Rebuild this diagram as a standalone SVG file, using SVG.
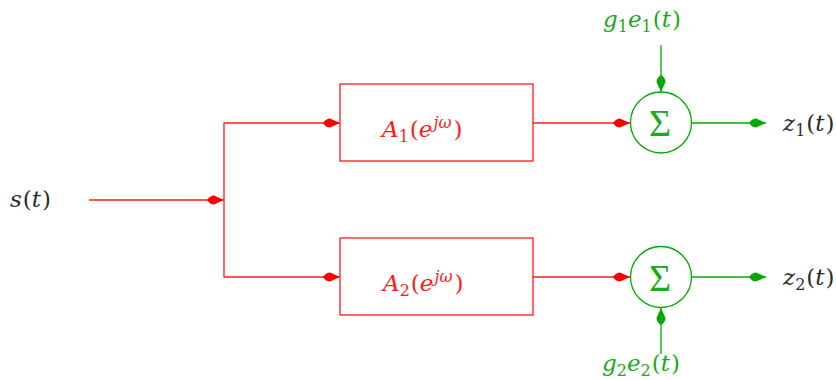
<svg xmlns="http://www.w3.org/2000/svg" width="836" height="380" viewBox="0 0 836 380">
  <defs>
    <style>
      .red { stroke: #ff1a1a; stroke-width: 1.3; fill: none; }
      .grn { stroke: #00aa00; stroke-width: 1.3; fill: none; }
      .box { stroke: #ff1a1a; stroke-width: 1.3; fill: #ffffff; }
      .sum { stroke: #00aa00; stroke-width: 1.3; fill: #ffffff; }
      .tx { font-family: "DejaVu Serif", "Liberation Serif", serif; font-size: 23px; }
      .mi { font-style: italic; }
      .sb { font-size: 16px; font-style: normal; }
      .sp { font-size: 16px; font-style: italic; }
      .sig { font-family: "Liberation Serif", serif; font-size: 38px; }
      .lbl { fill: #2b2b2b; }
      .rt { fill: #ff1a1a; }
      .gt { fill: #1aaa1a; }
    </style>
    <marker id="arrR" viewBox="-18 -5 19 10" refX="0" refY="0" markerWidth="19" markerHeight="10" markerUnits="userSpaceOnUse" orient="auto">
      <path d="M0,0 L-10,-4.5 Q-14,-4.5 -17,0 Q-14,4.5 -10,4.5 Z" fill="#ff0000"/>
    </marker>
    <marker id="arrG" viewBox="-18 -5 19 10" refX="0" refY="0" markerWidth="19" markerHeight="10" markerUnits="userSpaceOnUse" orient="auto">
      <path d="M0,0 L-10,-4.5 Q-14,-4.5 -17,0 Q-14,4.5 -10,4.5 Z" fill="#00aa00"/>
    </marker>
  </defs>

  <!-- connectors -->
  <g id="connectors">
    <path class="red" d="M89,200 H224" marker-end="url(#arrR)"/>
    <path class="red" d="M224,200 V123 H340" marker-end="url(#arrR)"/>
    <path class="red" d="M224,200 V277 H340" marker-end="url(#arrR)"/>
    <path class="red" d="M533,123 H630" marker-end="url(#arrR)"/>
    <path class="red" d="M533,277 H630" marker-end="url(#arrR)"/>
    <path class="grn" d="M661,45 V92" marker-end="url(#arrG)"/>
    <path class="grn" d="M661,354 V308" marker-end="url(#arrG)"/>
    <path class="grn" d="M691,123 H766" marker-end="url(#arrG)"/>
    <path class="grn" d="M691,277 H766" marker-end="url(#arrG)"/>
  </g>

  <!-- input label -->
  <g id="input">
    <text class="tx lbl" x="10" y="207"><tspan class="mi">s</tspan><tspan dx="1">(</tspan><tspan class="mi">t</tspan><tspan dx="1">)</tspan></text>
  </g>

  <!-- filter A1 -->
  <g id="filterA1">
    <rect class="box" x="340" y="84" width="193" height="77"/>
    <text class="tx rt" x="382" y="137"><tspan class="mi">A</tspan><tspan class="sb" dy="5">1</tspan><tspan dx="1" dy="-5">(</tspan><tspan class="mi">e</tspan><tspan class="sp" dx="1" dy="-9">jω</tspan><tspan dx="2" dy="9">)</tspan></text>
  </g>

  <!-- filter A2 -->
  <g id="filterA2">
    <rect class="box" x="340" y="238" width="193" height="77"/>
    <text class="tx rt" x="383" y="291"><tspan class="mi">A</tspan><tspan class="sb" dy="5">2</tspan><tspan dx="1" dy="-5">(</tspan><tspan class="mi">e</tspan><tspan class="sp" dx="1" dy="-9">jω</tspan><tspan dx="2" dy="9">)</tspan></text>
  </g>

  <!-- summing junction 1 -->
  <g id="sum1">
    <circle class="sum" cx="661" cy="122.5" r="30.5"/>
    <text class="sig gt" x="660" y="136" text-anchor="middle">Σ</text>
  </g>

  <!-- summing junction 2 -->
  <g id="sum2">
    <circle class="sum" cx="661" cy="277" r="30.5"/>
    <text class="sig gt" x="660" y="290.5" text-anchor="middle">Σ</text>
  </g>

  <!-- disturbance inputs -->
  <g id="noise1">
    <text class="tx gt" x="603" y="27"><tspan class="mi">g</tspan><tspan class="sb" dy="5">1</tspan><tspan class="mi" dy="-5">e</tspan><tspan class="sb" dy="5">1</tspan><tspan dx="1" dy="-5">(</tspan><tspan class="mi">t</tspan><tspan dx="1">)</tspan></text>
  </g>
  <g id="noise2">
    <text class="tx gt" x="602" y="371"><tspan class="mi">g</tspan><tspan class="sb" dy="5">2</tspan><tspan class="mi" dy="-5">e</tspan><tspan class="sb" dy="5">2</tspan><tspan dx="1" dy="-5">(</tspan><tspan class="mi">t</tspan><tspan dx="1">)</tspan></text>
  </g>

  <!-- outputs -->
  <g id="out1">
    <text class="tx lbl" x="783" y="131"><tspan class="mi">z</tspan><tspan class="sb" dy="5">1</tspan><tspan dx="1" dy="-5">(</tspan><tspan class="mi">t</tspan><tspan dx="1">)</tspan></text>
  </g>
  <g id="out2">
    <text class="tx lbl" x="783" y="285"><tspan class="mi">z</tspan><tspan class="sb" dy="5">2</tspan><tspan dx="1" dy="-5">(</tspan><tspan class="mi">t</tspan><tspan dx="1">)</tspan></text>
  </g>
</svg>
